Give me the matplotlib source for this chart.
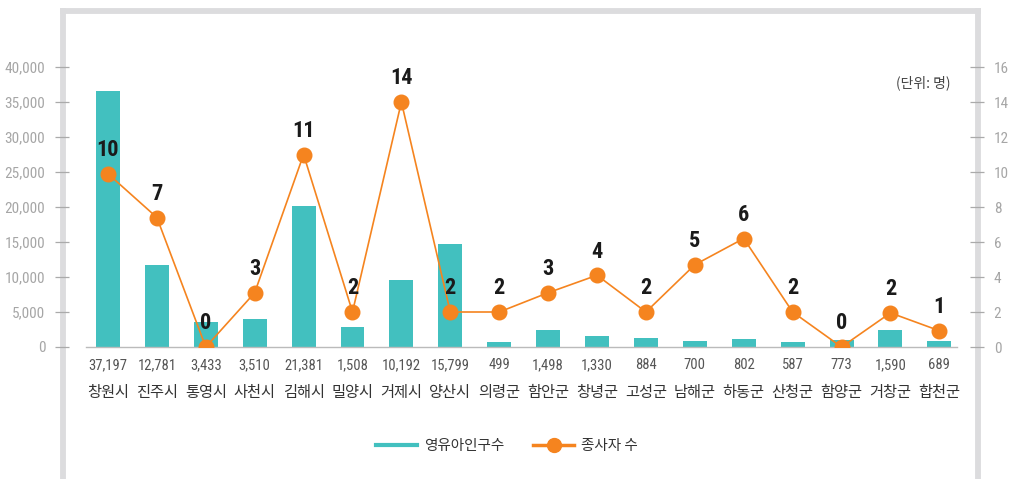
import matplotlib
matplotlib.use("Agg")
import matplotlib.pyplot as plt
from matplotlib.lines import Line2D
from matplotlib import font_manager
import numpy as np

plt.rcParams['font.family'] = ['Noto Sans CJK KR', 'DejaVu Sans']

# data
regions = ['창원시', '진주시', '통영시', '사천시', '김해시', '밀양시', '거제시', '양산시', '의령군',
           '함안군', '창녕군', '고성군', '남해군', '하동군', '산청군', '함양군', '거창군', '합천군']
pop_labels = ['37,197', '12,781', '3,433', '3,510', '21,381', '1,508', '10,192', '15,799', '499',
              '1,498', '1,330', '884', '700', '802', '587', '773', '1,590', '689']
# bar heights as drawn
pop_bars = [36600, 11700, 3600, 4000, 20100, 2900, 9600, 14700, 700,
            2400, 1600, 1300, 860, 1100, 700, 1000, 2400, 860]
# line points as drawn, and their printed labels
worker_pts = [9.9, 7.4, 0, 3.1, 11.0, 2.0, 14.0, 2.0, 2.0, 3.1, 4.1, 2.0, 4.7, 6.2, 2.0, 0, 1.95, 0.93]
worker_labels = [10, 7, 0, 3, 11, 2, 14, 2, 2, 3, 4, 2, 5, 6, 2, 0, 2, 1]

teal = '#42C0BF'
orange = '#F5841F'
frame_gray = '#DCDCDE'
tick_gray = '#A6A6A6'

# pick a narrow face if one is installed
names = {f.name for f in font_manager.fontManager.ttflist}
narrow = [n for n in ('Liberation Sans Narrow', 'Roboto Condensed', 'DejaVu Sans Condensed') if n in names]
narrow_family = (narrow[:1] or []) + ['DejaVu Sans']

W, H = 1021, 479
fig = plt.figure(figsize=(W / 100, H / 100), dpi=100)

def fx(px):
    return px / W

def fy(py):
    return 1 - py / H

ax = fig.add_axes([fx(62), fy(347), fx(977) - fx(62), fy(67) - fy(347)])
ax2 = ax.twinx()

x = np.arange(len(regions))
ax.bar(x, pop_bars, width=0.49, color=teal, zorder=2)
ax.set_xlim(-0.94, 17.77)
ax.set_ylim(0, 40000)
ax.set_yticks(range(0, 40001, 5000))
ax.set_yticklabels([f'{v:,}' for v in range(0, 40001, 5000)])
ax.set_xticks([])

ax2.plot(x, worker_pts, color=orange, lw=1.2, marker='o', ms=10.5, mec=orange, zorder=3)
ax2.set_ylim(0, 16)
ax2.set_yticks(range(0, 17, 2))
for xi, yi, lab in zip(x, worker_pts, worker_labels):
    ax2.annotate(str(lab), (xi, yi), xytext=(0, 17), textcoords='offset points',
                 ha='center', va='center', fontsize=16, fontweight='bold',
                 fontstretch='condensed', family=narrow_family, color='#1a1a1a')

for a in (ax, ax2):
    for s in a.spines.values():
        s.set_visible(False)
    a.patch.set_visible(False)
ax.tick_params(axis='y', direction='inout', length=10, width=0.9, color='#aaaaaa',
               labelcolor=tick_gray, labelsize=11, pad=7)
ax2.tick_params(axis='y', direction='inout', length=10, width=0.9, color='#aaaaaa',
                labelcolor=tick_gray, labelsize=11, pad=7)
for lab in ax.get_yticklabels() + ax2.get_yticklabels():
    lab.set_family(narrow_family)
    lab.set_fontstretch('condensed')

# baseline
ax.plot([-0.45, 17.36], [0, 0], color='#bbbbbb', lw=1.0, zorder=4, clip_on=False)

# value and name rows under the axis
trans = ax.get_xaxis_transform()
for xi, num, name in zip(x, pop_labels, regions):
    ax.text(xi, -18 / 280, num, transform=trans, ha='center', va='center',
            fontsize=10.5, color='#555555', family=narrow_family, fontstretch='condensed')
    ax.text(xi, -45 / 280, name, transform=trans, ha='center', va='center',
            fontsize=11, color='#333333')

fig.text(fx(950), fy(83), '(단위: 명)', ha='right', va='center', fontsize=10, color='#444444')

# outer frame
fig.add_artist(Line2D([fx(60), fx(980.5)], [fy(11), fy(11)], color=frame_gray, lw=4.2,
                      solid_capstyle='butt'))
fig.add_artist(Line2D([fx(63), fx(63)], [fy(8), 0], color=frame_gray, lw=4.2,
                      solid_capstyle='butt', zorder=0))
fig.add_artist(Line2D([fx(977.5), fx(977.5)], [fy(8), 0], color=frame_gray, lw=4.2,
                      solid_capstyle='butt', zorder=0))

handles = [Line2D([], [], color=teal, lw=3),
           Line2D([], [], color=orange, lw=2.5, marker='o', ms=10)]
fig.legend(handles, ['영유아인구수', '종사자 수'], loc='center', bbox_to_anchor=(fx(507), fy(446)),
           ncol=2, frameon=False, fontsize=10.5, handlelength=2.8, columnspacing=2.0,
           handletextpad=0.5, labelcolor='#333333')

fig.savefig('out.png', dpi=100)
